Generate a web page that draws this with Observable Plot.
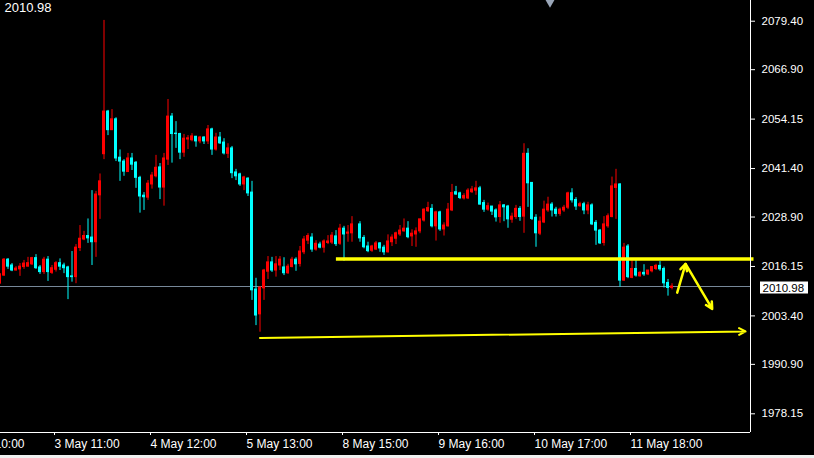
<!DOCTYPE html>
<html><head><meta charset="utf-8">
<script src="https://cdn.jsdelivr.net/npm/d3@7"></script>
<script src="https://cdn.jsdelivr.net/npm/@observablehq/plot@0.6"></script>
<style>
html,body{margin:0;padding:0;background:#f0f0f0;overflow:hidden;}
#chart svg{display:block;}
</style></head><body><div id="chart"></div>
<script>
// bar index of the first (partially visible) H1 candle
const firstBar = -1;
const open = [2011.8,
2013.8,2017.9,2016.4,2015.1,2015.4,2016.0,2016.1,2016.7,2018.3,2015.9,
2014.7,2017.9,2014.5,2015.3,2017.0,2016.4,2015.9,2013.6,2013.4,2020.9,
2023.1,2024.0,2023.6,2022.4,2034.5,2045.1,2056.1,2051.3,2054.1,2044.2,
2043.2,2040.5,2044.0,2042.9,2039.0,2034.4,2033.9,2037.3,2039.4,2041.7,
2036.5,2043.7,2054.8,2050.4,2050.3,2045.5,2048.9,2048.7,2049.6,2048.4,
2049.4,2048.4,2051.5,2046.3,2049.4,2048.1,2045.2,2046.6,2040.4,2039.9,
2037.3,2038.8,2035.2,2010.2,2003.8,2010.5,2014.8,2017.2,2015.1,2016.4,
2015.9,2014.4,2016.0,2017.9,2016.8,2019.8,2022.8,2023.6,2020.5,2021.8,
2021.0,2022.2,2022.3,2023.9,2022.0,2025.9,2024.6,2024.7,null,2027.0,
2023.5,2021.3,2020.2,2020.5,2022.1,2021.0,2019.8,2022.4,2023.3,2024.4,
2025.2,2025.9,2023.9,2024.4,2025.2,2028.0,2030.4,2031.0,2026.5,2030.1,
2025.7,2026.5,2030.6,2035.3,2035.0,2033.7,2033.7,2035.3,2035.7,2036.3,
2032.5,2030.8,2031.6,2030.6,2028.9,2031.9,2031.6,2028.2,2028.9,2031.0,
2029.0,2045.2,2037.7,2028.7,2024.6,2027.5,2030.6,2032.1,2030.8,2029.7,
2030.6,2031.3,2035.0,2033.3,2031.7,2032.2,2030.6,2031.9,2027.4,2025.4,
2022.2,2026.5,2028.9,2036.4,2037.3,2012.5,2021.3,2013.2,2015.5,2013.6,
2014.5,2014.1,2014.9,2015.5,2016.3,2015.5,2011.9,2010.6];
const high = [2014.3,
2018.2,2018.2,2016.9,2016.1,2016.9,2017.7,2018.5,2018.5,2019.2,2016.4,
2018.5,2018.7,2016.4,2017.4,2018.1,2017.0,2016.2,2020.0,2021.8,2026.7,
2025.2,2028.4,2035.7,2035.5,2040.0,2079.6,2056.4,2056.6,2054.5,2046.2,
2043.7,2045.3,2045.3,2043.2,2039.4,2035.2,2038.3,2040.4,2044.8,2042.7,
2045.3,2059.2,2055.6,2053.5,2050.5,2050.2,2049.9,2050.4,2049.7,2049.7,
2049.6,2052.5,2051.8,2050.5,2050.7,2049.1,2047.8,2047.1,2041.2,2040.2,
2039.4,2039.0,2038.1,2013.1,2010.9,2015.4,2018.7,2018.5,2018.7,2018.7,
2018.4,2016.7,2018.5,2018.4,2021.3,2023.9,2024.6,2024.6,2022.8,2022.4,
2023.0,2024.1,2024.9,2025.4,2027.0,2026.5,2026.7,2029.0,null,2027.7,
2024.1,2022.4,2021.6,2022.6,2022.3,2021.6,2024.3,2024.3,2025.0,2026.7,
2028.4,2027.7,2025.6,2026.1,2028.3,2031.0,2032.7,2032.1,2030.4,2030.4,
2027.4,2032.4,2037.3,2036.8,2035.3,2034.9,2036.2,2036.8,2038.1,2036.8,
2033.2,2032.5,2031.6,2031.0,2032.9,2032.1,2031.9,2029.9,2031.9,2031.6,
2047.8,2046.5,2037.7,2029.5,2028.9,2033.0,2034.0,2032.6,2031.4,2031.2,
2031.9,2035.3,2036.2,2033.9,2032.7,2032.7,2032.7,2032.3,2028.0,2025.7,
2029.0,2029.7,2039.2,2041.2,2037.5,2022.1,2021.8,2017.7,2017.7,2014.8,
2016.6,2015.1,2016.1,2016.7,2017.4,2016.0,2012.8,2011.7];
const low = [2011.5,
2013.6,2015.4,2014.8,2015.0,2013.6,2015.4,2016.0,2016.4,2015.4,2014.1,
2014.1,2012.3,2014.1,2014.7,2015.1,2014.3,2007.6,2012.1,2011.7,2020.0,
2022.8,2022.1,2016.4,2018.5,2028.3,2043.7,2049.9,2051.2,2043.2,2038.1,
2039.4,2040.4,2040.9,2036.3,2029.9,2030.6,2033.2,2036.1,2039.0,2033.4,
2031.7,2042.2,2042.8,2046.6,2043.7,2044.3,2046.3,2048.3,2046.9,2047.8,
2047.6,2047.6,2044.8,2045.9,2047.6,2044.9,2044.0,2038.8,2038.3,2036.8,
2035.7,2034.2,2007.4,2000.9,1999.2,2007.4,2012.8,2014.6,2013.4,2015.1,
2013.8,2014.1,2015.8,2014.9,2016.0,2019.2,2021.8,2019.8,2020.1,2020.7,
2019.6,2021.8,2021.8,2021.3,2021.6,2017.5,2022.4,2022.4,null,2022.4,
2020.7,2019.7,2019.8,2020.3,2019.8,2019.0,2019.6,2021.3,2021.8,2023.9,
2025.0,2023.3,2021.3,2021.1,2024.6,2027.6,2030.1,2026.1,2022.7,2025.2,
2024.0,2026.3,2030.3,2034.5,2033.4,2033.3,2033.4,2035.0,2034.5,2032.0,
2030.1,2030.4,2029.3,2027.6,2027.3,2027.7,2026.0,2027.3,2028.3,2027.8,
2024.7,2031.4,2028.0,2021.1,2024.1,2027.2,2030.1,2028.9,2028.9,2029.1,
2030.1,2030.8,2032.5,2030.6,2031.4,2029.5,2029.5,2026.7,2021.6,2021.8,
2021.4,2026.0,2028.7,2028.3,2010.8,2012.3,2013.0,2013.0,2013.4,2013.4,
2013.6,2013.8,2014.5,2015.1,2014.9,2010.6,2008.5,2010.1];
const close = [2014.1,
2017.9,2016.1,2015.1,2015.6,2016.1,2016.9,2017.0,2018.3,2015.7,2014.7,
2017.9,2014.7,2015.7,2017.0,2016.1,2015.7,2013.4,2013.4,2021.0,2023.3,
2024.0,2023.4,2022.4,2034.7,2038.1,2056.1,2051.3,2054.1,2044.0,2043.2,
2040.6,2044.0,2042.4,2039.0,2034.2,2034.0,2037.5,2039.6,2041.6,2036.5,
2044.0,2054.8,2050.3,2050.3,2045.5,2049.1,2049.2,2049.7,2048.4,2049.4,
2048.4,2051.5,2046.3,2049.4,2047.9,2045.3,2046.6,2040.2,2039.4,2037.3,
2039.1,2035.0,2010.0,2003.5,2010.7,2015.1,2017.2,2015.1,2016.7,2017.9,
2014.4,2016.1,2017.9,2016.7,2020.0,2023.1,2024.0,2020.5,2022.0,2021.0,
2022.6,2022.6,2024.1,2021.9,2025.9,2024.4,2024.9,2027.0,null,2023.4,
2021.1,2020.1,2021.3,2022.1,2020.8,2019.8,2022.6,2023.6,2024.7,2025.4,
2025.9,2023.7,2024.6,2025.2,2028.3,2030.8,2031.2,2026.5,2030.1,2025.7,
2026.7,2030.8,2035.1,2034.7,2033.8,2034.3,2035.7,2036.0,2036.3,2032.1,
2030.8,2031.7,2030.3,2028.8,2031.9,2031.4,2028.3,2029.0,2031.0,2028.9,
2045.2,2037.6,2028.4,2024.7,2027.7,2030.8,2032.1,2030.6,2029.7,2030.8,
2031.3,2035.0,2033.2,2031.6,2032.2,2030.6,2031.9,2027.0,2025.4,2022.1,
2027.0,2029.1,2036.8,2037.3,2012.5,2021.0,2013.4,2015.5,2013.8,2014.5,
2014.1,2015.1,2016.0,2016.3,2015.4,2011.8,2010.6,2010.98];

// time axis: bar index -> label
const timeTickBars = [-11, 13, 37, 61, 85, 109, 133, 157];
const timeTickLabels = ["2 May 10:00", "3 May 11:00", "4 May 12:00", "5 May 13:00",
  "8 May 15:00", "9 May 16:00", "10 May 17:00", "11 May 18:00"];
// price axis labels
const priceTicks = [2079.40, 2066.90, 2054.15, 2041.40, 2028.90, 2016.15, 2003.40, 1990.90, 1978.15];

// visible window
const barDomain = [-0.875, 186.625];
const priceDomain = [1973.33, 2084.74];

// drawn objects (bar index, price)
const levelLine = [{x1: 83.1, x2: 187.5, price: 2018.1}];
const arrows = [
  {x1: 64, y1: 1997.7, x2: 185.4, y2: 1999.4, w: 2},
  {x1: 168.3, y1: 2009.4, x2: 170.4, y2: 2016.8, w: 2.5},
  {x1: 170.4, y1: 2016.8, x2: 177.05, y2: 2005.2, w: 2.5}
];
const shiftMarkerBar = [136.5];

const bars = open.map((o, i) => ({i: firstBar + i, o, h: high[i], l: low[i], c: close[i]}))
  .filter(d => d.o != null);
const lastClose = close[close.length - 1];
const colorOf = d => d.c >= d.o ? "#ff0000" : "#00ffff";
const labelMap = new Map(timeTickBars.map((b, i) => [b, timeTickLabels[i]]));

const chart = Plot.plot({
  width: 814, height: 455,
  marginLeft: 0, marginRight: 64, marginTop: 0, marginBottom: 23,
  style: {background: "#000", color: "#fff", fontFamily: "'Liberation Sans', Arial, sans-serif", fontSize: "11px"},
  x: {domain: barDomain},
  y: {domain: priceDomain},
  color: {type: "identity"},
  marks: [
    Plot.ruleY([lastClose], {stroke: "#778899", strokeWidth: 1, shapeRendering: "crispEdges"}),
    Plot.ruleX(bars, {x: "i", y1: "l", y2: "h", stroke: colorOf, strokeWidth: 1}),
    Plot.rect(bars, {x1: d => d.i - 0.375, x2: d => d.i + 0.375, y1: "o", y2: "c", fill: colorOf,
      insetTop: -0.5, insetBottom: -0.5}),
    Plot.ruleY(levelLine, {y: "price", x1: "x1", x2: "x2", stroke: "#ffff00", strokeWidth: 3.5, clip: false}),
    Plot.arrow(arrows, {x1: "x1", y1: "y1", x2: "x2", y2: "y2", stroke: "#ffff00", strokeWidth: "w",
      headLength: 11, headAngle: 55}),
    Plot.ruleX([barDomain[1]], {stroke: "#fff", shapeRendering: "crispEdges"}),
    Plot.ruleY([priceDomain[0]], {stroke: "#fff", shapeRendering: "crispEdges"}),
    Plot.axisY({anchor: "right", ticks: priceTicks, tickFormat: d => d.toFixed(2), tickSize: 4, tickPadding: 7,
      fontSize: 11.5, color: "#fff"}),
    Plot.axisX({anchor: "bottom", ticks: timeTickBars, tickFormat: d => labelMap.get(d), tickSize: 3, tickPadding: 4,
      textAnchor: "start", dx: -1.5, fontSize: 12, color: "#fff"}),
    Plot.text([lastClose], {frameAnchor: "top-left", text: d => d.toFixed(2), dx: 4, dy: 2,
      textAnchor: "start", lineAnchor: "top", fill: "#fff", fontSize: 13}),
    Plot.dot(shiftMarkerBar, {x: d => d, frameAnchor: "top", symbol: "triangle", rotate: 180, r: 4,
      fill: "#9aa6b8", stroke: "none", dy: 1})
  ]
});

document.getElementById("chart").appendChild(chart);

// current price label box on the price axis
const svg = d3.select(chart);
const yp = chart.scale("y").apply(lastClose);
const xr = chart.scale("x").range[1] + 10;
const g = svg.append("g");
g.append("rect").attr("x", xr).attr("y", yp - 4.5).attr("width", 48).attr("height", 12).attr("fill", "#fff");
g.append("text").attr("x", xr + 2.5).attr("y", yp + 1.5).attr("dy", "0.35em")
  .attr("text-anchor", "start").attr("fill", "#000").attr("font-size", 11.5)
  .text(lastClose.toFixed(2));
</script></body></html>
